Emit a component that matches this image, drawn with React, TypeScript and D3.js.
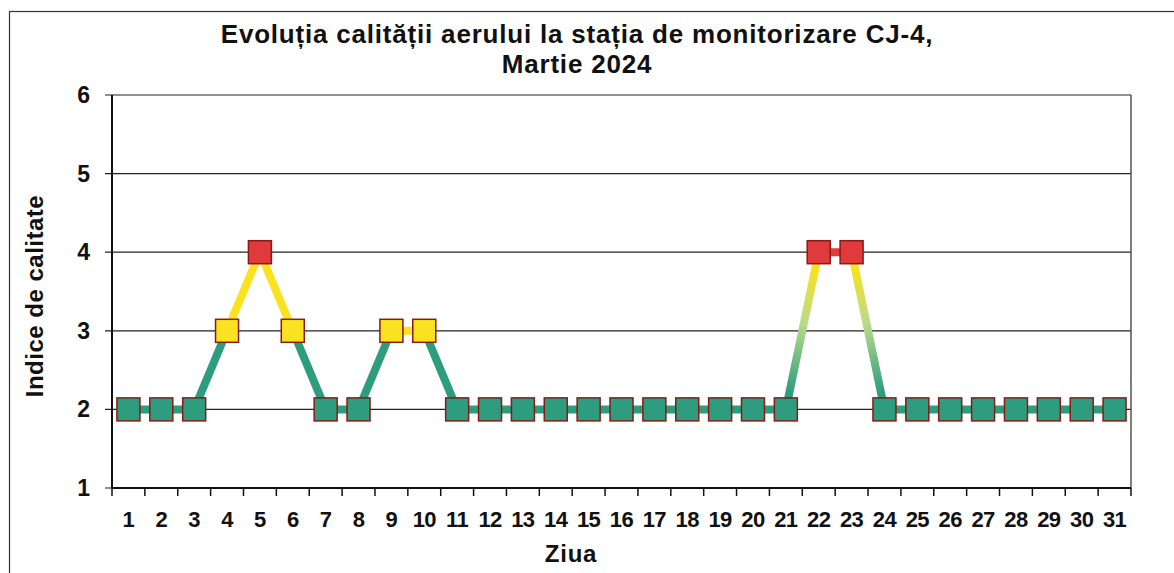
import React from "react";
import * as d3 from "d3";

const days: number[] = d3.range(1, 32);
const values: number[] = [2, 2, 2, 3, 4, 3, 2, 2, 3, 3, 2, 2, 2, 2, 2, 2, 2, 2, 2, 2, 2, 4, 4, 2, 2, 2, 2, 2, 2, 2, 2];
const yTicks: number[] = [1, 2, 3, 4, 5, 6];
const titleLines: string[] = ["Evoluția calității aerului la stația de monitorizare CJ-4,", "Martie 2024"];
const xTitle = "Ziua";
const yTitle = "Indice de calitate";

const W = 1174, H = 573;
const M = { left: 112, right: 1131, top: 95, bottom: 488 };
const TEAL = "#2e9c7e";
const YELLOW = "#f9e21f";
const RED = "#e03a3c";
const EDGE = "#8a1a14";
const FONT = "'Liberation Sans', Arial, sans-serif";

const markerColor = (v: number) => (v >= 4 ? RED : v === 3 ? YELLOW : TEAL);

export default function App() {
  const x = d3.scaleBand<number>().domain(days).range([M.left, M.right]);
  const y = d3.scaleLinear().domain([1, 6]).range([M.bottom, M.top]);
  const cx = (d: number) => (x(d) as number) + x.bandwidth() / 2;
  const boundaries = d3.range(0, days.length + 1).map((i) => M.left + i * x.step());

  const segs = days.slice(0, -1).map((d, i) => {
    const a = values[i], b = values[i + 1];
    const lo = Math.min(a, b), hi = Math.max(a, b);
    const stroke = markerColor(lo);
    const grad = hi - lo >= 2;
    return { i, x1: cx(d), y1: y(a), x2: cx(days[i + 1]), y2: y(b), a, b, stroke, grad };
  });

  const sq = 23;

  return (
    <svg width={W} height={H} style={{ position: "absolute", left: 0, top: 0, background: "#fff" }} fontFamily={FONT}>
      <defs>
        {segs.filter((s) => s.grad).map((s) => {
          const lowFirst = s.a < s.b;
          return (
            <linearGradient key={s.i} id={`g${s.i}`} gradientUnits="userSpaceOnUse"
              x1={lowFirst ? s.x1 : s.x2} y1={lowFirst ? s.y1 : s.y2}
              x2={lowFirst ? s.x2 : s.x1} y2={lowFirst ? s.y2 : s.y1}>
              <stop offset="0.1" stopColor={TEAL} />
              <stop offset="0.55" stopColor="#b8dc8a" />
              <stop offset="0.9" stopColor={YELLOW} />
            </linearGradient>
          );
        })}
      </defs>
      <rect x={9.5} y={11.5} width={1180} height={600} fill="none" stroke="#333" strokeWidth={1.2} />
      {titleLines.map((t, i) => (
        <text key={i} x={577} y={43 + i * 30} textAnchor="middle" fontSize={26} letterSpacing={0.8} fontWeight="bold" fill="#111">{t}</text>
      ))}
      {yTicks.map((t) => (
        <g key={t}>
          <line x1={M.left - 7} x2={M.right} y1={y(t)} y2={y(t)} stroke="#222" strokeWidth={1.2} />
          <text x={90} y={y(t) + 8} textAnchor="end" fontSize={23} fontWeight="bold" fill="#111">{t}</text>
        </g>
      ))}
      <line x1={M.left} x2={M.left} y1={M.top} y2={M.bottom} stroke="#111" strokeWidth={2} />
      <line x1={M.right} x2={M.right} y1={M.top} y2={M.bottom} stroke="#555" strokeWidth={1.5} />
      <line x1={M.left} x2={M.right} y1={M.bottom} y2={M.bottom} stroke="#111" strokeWidth={2} />
      {boundaries.map((bx, i) => (
        <line key={i} x1={bx} x2={bx} y1={M.bottom} y2={M.bottom + 8} stroke="#111" strokeWidth={1.5} />
      ))}
      {days.map((d) => (
        <text key={d} x={cx(d)} y={527} textAnchor="middle" fontSize={22} letterSpacing={-0.6} fontWeight="bold" fill="#111">{d}</text>
      ))}
      <text x={571} y={562} textAnchor="middle" fontSize={24} letterSpacing={0.8} fontWeight="bold" fill="#111">{xTitle}</text>
      <text transform={`translate(43, 296) rotate(-90)`} textAnchor="middle" fontSize={24} letterSpacing={0.5} fontWeight="bold" fill="#111">{yTitle}</text>
      {segs.map((s) => (
        <line key={s.i} x1={s.x1} y1={s.y1} x2={s.x2} y2={s.y2}
          stroke={s.grad ? `url(#g${s.i})` : s.stroke} strokeWidth={8} />
      ))}
      {days.map((d, i) => (
        <rect key={d} x={cx(d) - sq / 2} y={y(values[i]) - sq / 2} width={sq} height={sq}
          fill={markerColor(values[i])} stroke={EDGE} strokeWidth={1.5} />
      ))}
    </svg>
  );
}
